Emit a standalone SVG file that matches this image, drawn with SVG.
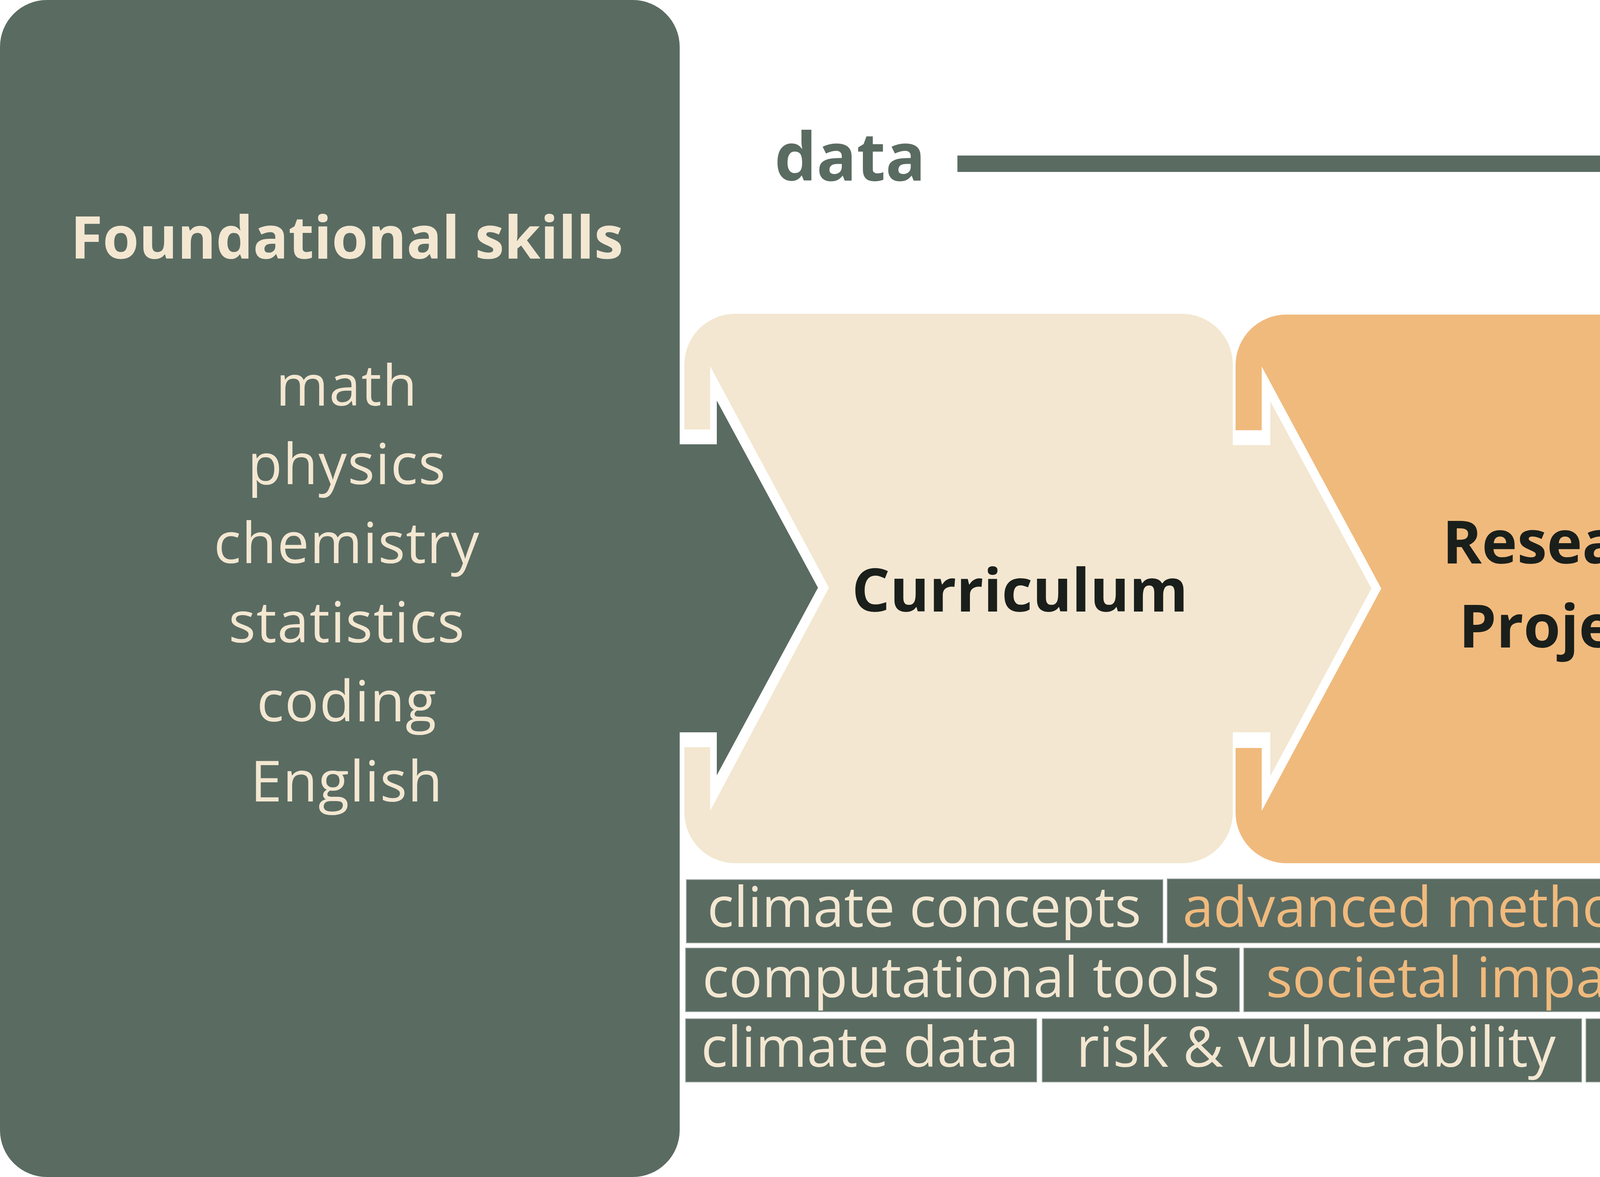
<svg xmlns="http://www.w3.org/2000/svg" width="7741" height="3012" viewBox="0 0 7741 3012">
<style>
.dark{fill:#5A6B62}
.beige{fill:#F3E7D1}
.lo{fill:#F0BA7D}
.or{fill:#E18358}
.white{fill:#FFFFFF}
.title{font-family:"Open Sans","Noto Sans",sans-serif;font-weight:700;font-size:153px;fill:#1A1F1B;text-anchor:middle}
.ptitle{font-family:"Open Sans","Noto Sans",sans-serif;font-weight:700;font-size:150px;fill:#F3E7D1;text-anchor:middle}
.plist{font-family:"Open Sans","Noto Sans",sans-serif;font-size:145px;letter-spacing:2px;fill:#F3E7D1;text-anchor:middle}
.tile{fill:#5A6B62;stroke:#A3AAA5;stroke-width:2}
.tt{font-family:"Open Sans","Noto Sans",sans-serif;font-size:142px;text-anchor:middle}
.tc{fill:#F3E7D1}
.tl{fill:#F0BA7D}
.to{fill:#E18358}
.flow{font-family:"Open Sans","Noto Sans",sans-serif;font-weight:700;font-size:170px;fill:#5A6B62;text-anchor:middle}
</style>
<rect width="7741" height="3012" fill="#FFFFFF"/>

<g id="foundational-skills">
<rect class="dark" x="0" y="0" width="1740" height="3012" rx="120" ry="120"/>
<text class="ptitle" x="888" y="662">Foundational skills</text>
<text class="plist" x="888" y="1038">math</text>
<text class="plist" x="888" y="1239">physics</text>
<text class="plist" x="888" y="1441">chemistry</text>
<text class="plist" x="888" y="1644">statistics</text>
<text class="plist" x="888" y="1846">coding</text>
<text class="plist" x="888" y="2051">English</text>
</g>

<g id="outcomes">
<rect class="dark" x="6001" y="0" width="1740" height="3012" rx="120" ry="120"/>
<text class="ptitle" x="6955" y="660">Outcomes</text>
<text class="plist" x="6970" y="936">computational tools</text>
<text class="plist" x="6970" y="1141">data analysis</text>
<text class="plist" x="6970" y="1345">climate science</text>
<text class="plist" x="6970" y="1551">research</text>
<text class="plist" x="6970" y="1753">societal impact</text>
<text class="plist" x="6970" y="1958">career orientation</text>
<text class="plist" x="6970" y="2162">community</text>
</g>

<g id="curriculum-box">
<rect class="beige" x="1752" y="803" width="1404" height="1406" rx="130" ry="130"/>
</g>
<g id="research-box">
<rect class="lo" x="3163" y="805" width="1406" height="1404" rx="130" ry="130"/>
</g>
<g id="professional-box">
<rect class="or" x="4577" y="810" width="1406" height="1406" rx="130" ry="130"/>
</g>

<g id="connectors">
<polygon class="white" points="1740,1099 1818,1099 1818,937 2122,1504 1818,2075 1818,1912 1740,1912"/>
<polygon class="dark" points="1730,1137 1835,1137 1835,1025 2094,1504 1835,1984 1835,1874 1730,1874"/>
<polygon class="white" points="3156,1101 3230,1101 3230,938 3536,1506 3230,2075 3230,1914 3156,1914"/>
<polygon class="beige" points="3148,1139 3252,1139 3252,1027 3511,1506 3252,1986 3252,1874 3148,1874"/>
<polygon class="white" points="4569,1107 4643,1107 4643,946 4949,1512 4643,2080 4643,1920 4569,1920"/>
<polygon class="lo" points="4561,1147 4666,1147 4666,1034 4925,1512 4666,1994 4666,1883 4561,1883"/>
<polygon class="white" points="5983,1110 6079,1110 6079,948 6382,1512 6079,2082 6079,1919 5983,1919"/>
<polygon class="or" points="5975,1147 6103,1147 6103,1034 6362,1512 6103,1994 6103,1882 5975,1882"/>
<path class="dark" d="M2451,398 H4792 L4766,311 L5050,412 Q5058,420 5050,428 L4766,526 L4792,440 H2451 Z"/>
</g>

<g id="curriculum">
<text class="title" x="2611" y="1565">Curriculum</text>
</g>
<g id="research-projects">
<text class="title" x="4042" y="1442">Research</text>
<text class="title" x="4044" y="1657">Projects</text>
</g>
<g id="professional-development">
<text class="title" x="5502" y="1453">Professional</text>
<text class="title" x="5500" y="1668">Development</text>
</g>

<g id="flow-labels">
<text class="flow" x="2176" y="462">data</text>
<text class="flow" x="5444" y="462">action</text>
</g>

<g id="tiles">
<rect class="tile" x="1757" y="2251" width="1220" height="162"/>
<text class="tt tc" x="2366" y="2372">climate concepts</text>
<rect class="tile" x="2988" y="2249" width="1355" height="164"/>
<text class="tt tl" x="3659" y="2372">advanced methods</text>
<rect class="tile" x="4357" y="2249" width="789" height="164"/>
<text class="tt tl" x="4753" y="2372">adaptation</text>
<rect class="tile" x="5157" y="2249" width="832" height="164"/>
<text class="tt to" x="5570" y="2372">mentorship</text>

<rect class="tile" x="1755" y="2426" width="1418" height="163"/>
<text class="tt tc" x="2460" y="2552">computational tools</text>
<rect class="tile" x="3184" y="2426" width="1185" height="163"/>
<text class="tt tl" x="3770" y="2552">societal impacts</text>
<rect class="tile" x="4383" y="2426" width="1122" height="163"/>
<text class="tt tl" x="4945" y="2552">climate change</text>
<rect class="tile" x="5519" y="2426" width="471" height="163"/>
<text class="tt to" x="5759" y="2552">equity</text>

<rect class="tile" x="1755" y="2607" width="899" height="162"/>
<text class="tt tc" x="2201" y="2730">climate data</text>
<rect class="tile" x="2668" y="2607" width="1381" height="162"/>
<text class="tt tc" x="3369" y="2730">risk &amp; vulnerability</text>
<rect class="tile" x="4060" y="2607" width="1347" height="162"/>
<text class="tt tl" x="4733" y="2730">research practices</text>
<rect class="tile" x="5424" y="2607" width="567" height="162"/>
<text class="tt to" x="5706" y="2730">careers</text>
</g>
</svg>
